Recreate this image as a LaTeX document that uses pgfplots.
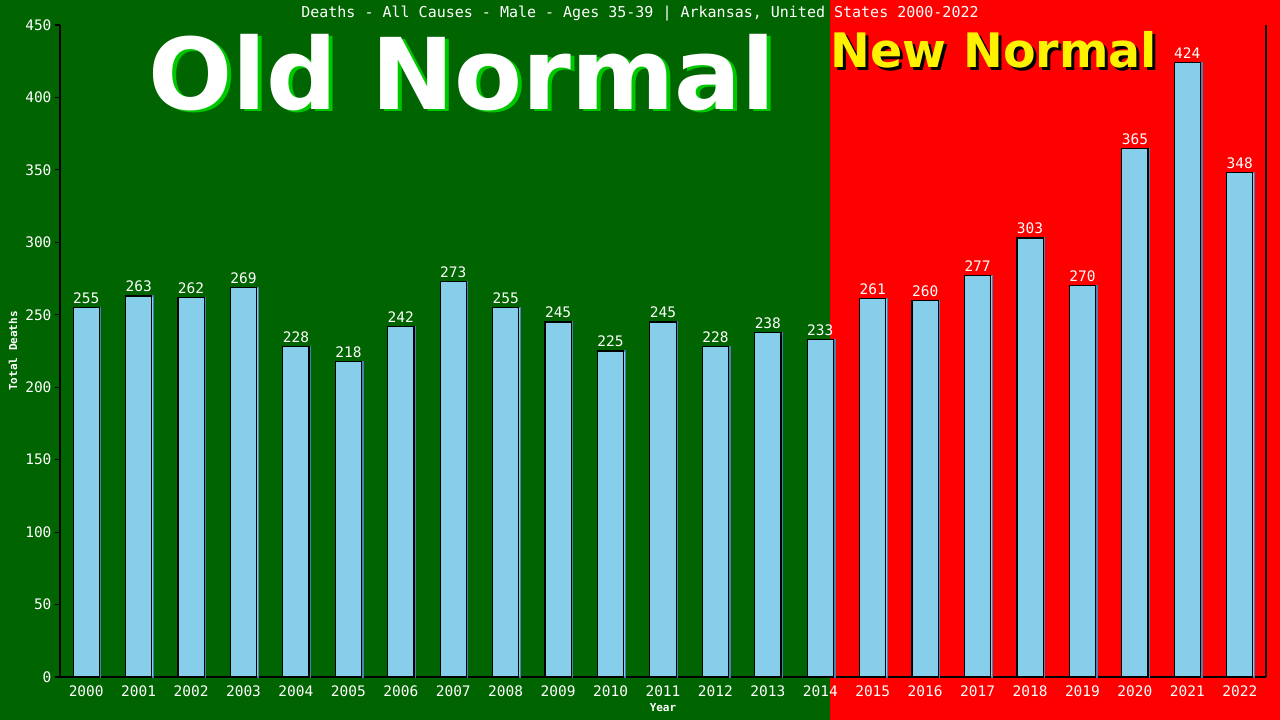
\documentclass[border=0pt]{standalone}
\usepackage{pgfplots}
\pgfplotsset{compat=1.18}
\usepackage{fontspec}
\setmainfont{DejaVu Sans}
\newfontfamily\monofont{DejaVu Sans Mono}
\definecolor{oldgreen}{RGB}{0,100,0}
\definecolor{newred}{RGB}{255,0,0}
\definecolor{shadowgreen}{RGB}{0,200,0}
\definecolor{barblue}{RGB}{135,206,235}
\definecolor{edgeblue}{RGB}{70,130,180}
\begin{document}
\begin{tikzpicture}[x=1pt,y=1pt]
\fill[oldgreen] (0,0) rectangle (830,720);
\fill[newred] (830,0) rectangle (1280,720);
\useasboundingbox (0,0) rectangle (1280,720);
\node[text=white, font=\monofont\fontsize{15}{16}\selectfont, anchor=base] at (640,702) {Deaths - All Causes - Male - Ages 35-39 | Arkansas, United States 2000-2022};
\node[text=white, font=\bfseries\fontsize{99}{100}\selectfont, anchor=base] at (462,610) {\rlap{\hspace{4pt}\raisebox{-2pt}{\color{shadowgreen}Old Normal}}Old Normal};
\node[text=yellow, font=\bfseries\fontsize{47.5}{48}\selectfont, anchor=base] at (994,652) {\rlap{\hspace{3pt}\raisebox{-3pt}{\color{black}New Normal}}New Normal};
\begin{axis}[
  at={(60pt,43pt)}, anchor=south west,
  scale only axis, width=1206pt, height=652pt,
  xmin=-0.5, xmax=22.5, ymin=0, ymax=450,
  axis x line*=bottom, axis y line*=left,
  axis line style={black, line width=1.2pt},
  ybar, bar width=0.5,
  xtick=data,
  xticklabels={2000,2001,2002,2003,2004,2005,2006,2007,2008,2009,2010,2011,2012,2013,2014,2015,2016,2017,2018,2019,2020,2021,2022},
  ytick={0,50,100,150,200,250,300,350,400,450},
  tick align=outside, major tick length=5pt,
  y tick style={black, line width=1.2pt},
  x tick style={draw=none},
  /pgf/number format/assume math mode=true,
  tick label style={text=white, font=\monofont\fontsize{14.5}{16}\selectfont},
  ylabel={Total Deaths}, xlabel={Year},
  ylabel style={at={(axis description cs:0,0.5)}, anchor=center, yshift=47pt, text=white, font=\monofont\bfseries\fontsize{11}{12}\selectfont},
  xlabel style={at={(axis description cs:0.5,0)}, anchor=center, yshift=-31pt, text=white, font=\monofont\bfseries\fontsize{11}{12}\selectfont},
  nodes near coords,
  every node near coord/.append style={text=white, font=\monofont\fontsize{14.5}{16}\selectfont},
  clip=false,
]
\addplot[fill=barblue, draw=edgeblue, line width=1.2pt, bar shift=1.5pt, forget plot, nodes near coords=] coordinates {
(0,255) (1,263) (2,262) (3,269) (4,228) (5,218) (6,242) (7,273) (8,255) (9,245)
(10,225) (11,245) (12,228) (13,238) (14,233) (15,261) (16,260) (17,277) (18,303)
(19,270) (20,365) (21,424) (22,348)};
\addplot[fill=barblue, draw=black, line width=1.2pt, bar shift=0pt] coordinates {
(0,255) (1,263) (2,262) (3,269) (4,228) (5,218) (6,242) (7,273) (8,255) (9,245)
(10,225) (11,245) (12,228) (13,238) (14,233) (15,261) (16,260) (17,277) (18,303)
(19,270) (20,365) (21,424) (22,348)};
\draw[black, line width=1.2pt] (rel axis cs:1,0) -- (rel axis cs:1,1);
\end{axis}
\end{tikzpicture}
\end{document}
